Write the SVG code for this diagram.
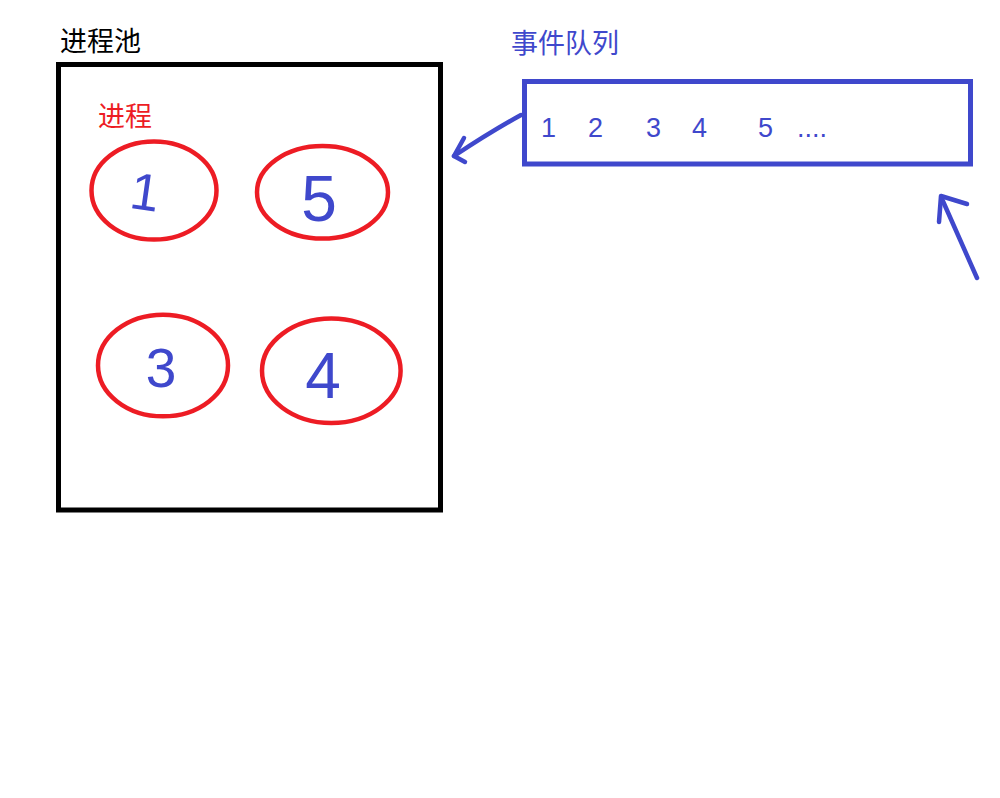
<svg xmlns="http://www.w3.org/2000/svg" width="1000" height="798" viewBox="0 0 1000 798">
  <style>
    .cjk { font-family: "Noto Sans CJK SC", "Noto Sans", sans-serif; font-size: 27px; }
    .proc { fill: none; stroke: #ed1c24; stroke-width: 4.5; }
    .hand { font-family: "Liberation Sans", "DejaVu Sans", sans-serif; fill: #3f48cc; text-anchor: middle; }
    .qnum { font-family: "Liberation Sans", "Noto Sans", sans-serif; font-size: 27px; fill: #3f48cc; }
    .conn { fill: none; stroke: #3f48cc; stroke-width: 4.5; stroke-linecap: round; stroke-linejoin: round; }
  </style>
  <rect x="0" y="0" width="1000" height="798" fill="#ffffff"/>

  <g id="pool">
    <text class="cjk" x="60" y="51" fill="#000000">进程池</text>
    <rect x="58.5" y="64.5" width="382" height="445.5" fill="none" stroke="#000000" stroke-width="5"/>
    <text class="cjk" x="98" y="126" fill="#ed1c24">进程</text>
  </g>

  <g id="process-1">
    <ellipse class="proc" cx="154" cy="190.5" rx="62.5" ry="49"/>
    <text class="hand" x="145" y="210" font-size="52" transform="rotate(8 145 192)">1</text>
  </g>
  <g id="process-5">
    <ellipse class="proc" cx="322.5" cy="192.3" rx="65.5" ry="46.3"/>
    <text class="hand" x="319" y="221" font-size="64">5</text>
  </g>
  <g id="process-3">
    <ellipse class="proc" cx="163" cy="365.5" rx="65" ry="50.8"/>
    <text class="hand" x="161" y="387" font-size="55">3</text>
  </g>
  <g id="process-4">
    <ellipse class="proc" cx="331.3" cy="370.8" rx="69.3" ry="52.2"/>
    <text class="hand" x="323" y="398" font-size="64">4</text>
  </g>

  <g id="event-queue">
    <text class="cjk" x="511" y="53" fill="#3f48cc">事件队列</text>
    <rect x="524.5" y="81.5" width="446" height="82.5" fill="none" stroke="#3f48cc" stroke-width="5"/>
    <text class="qnum" x="541" y="137">1</text>
    <text class="qnum" x="588" y="137">2</text>
    <text class="qnum" x="646" y="137">3</text>
    <text class="qnum" x="692" y="137">4</text>
    <text class="qnum" x="758" y="137">5</text>
    <text class="qnum" x="797" y="137">....</text>
  </g>

  <g id="connectors">
    <path class="conn" d="M521,115 Q490,132 454,156"/>
    <path class="conn" d="M464,138 L454,156 L465,162"/>
    <path class="conn" d="M977,278 L942,199"/>
    <path class="conn" d="M939,222 L941,196 L967,204"/>
  </g>
</svg>
